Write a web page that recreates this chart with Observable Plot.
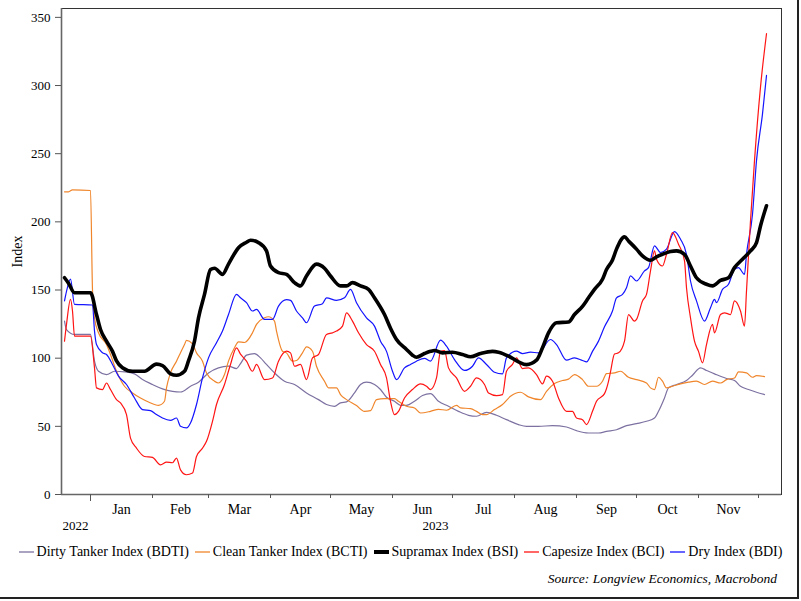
<!DOCTYPE html>
<html><head><meta charset="utf-8">
<script src="https://cdn.jsdelivr.net/npm/d3@7"></script>
<script src="https://cdn.jsdelivr.net/npm/@observablehq/plot@0.6"></script>
<style>
body{margin:0;background:#fff;}
#wrap{position:relative;width:801px;height:601px;font-family:"Liberation Serif",serif;color:#000;overflow:hidden}
#box{position:absolute;left:0;top:0;width:797px;height:597px;border-right:2px solid #222;border-bottom:2px solid #222;pointer-events:none}
#chart{position:absolute;left:0;top:0}
#legend{position:absolute;top:544px;left:8px;width:785px;display:flex;justify-content:center;align-items:center;font-size:14px;white-space:nowrap}
#legend .it{display:flex;align-items:center;margin:0 3px}
#legend svg{margin-right:3px}
#source{position:absolute;top:571px;right:24px;font-size:13.5px;font-style:italic}
</style></head>
<body><div id="wrap"><div id="chart"></div><div id="legend"></div><div id="source">Source: Longview Economics, Macrobond</div><div id="box"></div></div>
<script>
// day offsets from 2023-01-01, index values
const bdti = [[-13,127.2],[-12,121],[-8,117.4],[0,117.4],[2,97.8],[4,90.4],[8,88],[12,90.4],[17,90],[22,88.5],[26,84.3],[31,80.7],[36,77.5],[41,75.7],[45,75.2],[50,79.4],[54,82.4],[59,89.2],[64,92.9],[69,94.1],[73,92.4],[75,96],[78,102.2],[82,103.4],[85,100.2],[88,95.4],[92,89.2],[97,83.1],[102,80.7],[108,74.5],[114,69.6],[118,66],[122,64.7],[125,67.2],[128,67.9],[132,74.5],[135,80.7],[138,82.4],[142,80.7],[145,77],[148,71.3],[152,68.4],[155,65.4],[158,65.4],[162,68.4],[166,72.6],[170,74],[174,68.4],[179,64.7],[184,61],[189,58.1],[193,57.4],[198,60.3],[203,58.1],[208,54.9],[214,51.3],[218,50],[224,50],[231,50.5],[238,49.5],[243,46.8],[249,45.1],[254,45.1],[258,46.3],[263,47.5],[268,50.5],[273,52],[278,53.7],[282,56.1],[284,61],[287,70.8],[289,78.2],[293,80.7],[298,83.6],[301,87.5],[305,92.9],[308,91],[312,88.5],[318,85.1],[322,83.6],[325,79.4],[329,77],[333,75],[337,73.3]];
const bcti = [[-13,222],[-11,222],[-9,223.5],[0,223],[1,150],[2,129.6],[4,118.6],[8,110],[10,102.7],[13,90.4],[17,79.4],[21,74.5],[25,70.8],[29,67.9],[34,65.4],[37,68.4],[38,78.2],[40,89.2],[43,97.8],[45,103.9],[47,110],[48,113],[51,110.5],[53,103.9],[56,97.8],[58,89.2],[62,83.1],[64,81.8],[67,88],[69,97.8],[72,107.6],[74,112],[77,111.5],[81,118.6],[83,124.8],[87,129.6],[89,130.4],[92,127.2],[93,119.9],[96,105.1],[98,103.9],[101,97.8],[103,98.3],[106,103.9],[108,108.3],[111,105.1],[113,94.1],[117,83.1],[119,78.2],[123,78.2],[125,73.3],[128,69.6],[133,65.2],[137,61],[140,61.5],[143,69.6],[147,70.3],[152,70.3],[154,68.4],[158,64.7],[162,63.5],[165,59.8],[170,61],[174,62.5],[178,61.8],[183,65.4],[185,63.5],[190,63],[193,61],[196,58.6],[198,58.6],[202,62.3],[206,66],[210,72],[215,75],[219,71.6],[225,69.6],[228,75.7],[232,81.4],[236,83.6],[239,84.6],[242,88],[246,84.3],[249,79.4],[253,79.4],[256,83.1],[258,88.7],[262,89.2],[265,90.4],[269,86],[273,84.3],[278,81.8],[280,78.2],[282,77],[284,86],[286,83.1],[288,78.2],[291,79.4],[295,81.1],[299,82.4],[303,83.1],[307,80.7],[311,83.1],[315,81.8],[318,84.3],[322,85.5],[324,89.9],[328,89.2],[331,86],[333,87.2],[337,86.5]];
const bsi = [[-13,159],[-11,155],[-8,148],[0,148],[3,132],[5,121],[8,112.5],[11,105],[13,98],[16,93],[21,90.4],[27,90.4],[33,95.6],[36,94.6],[40,88.5],[43,87.5],[47,90.4],[49,98],[52,112.5],[54,129.6],[57,146.8],[60,165],[62,166],[66,161.5],[69,169],[74,181],[78,185],[80,186.5],[84,184.8],[88,178.7],[90,167.6],[94,162.7],[98,161.5],[102,155.4],[105,153],[108,160.3],[113,169],[117,166],[120,160.3],[125,153],[128,153],[131,155.4],[135,153],[139,150.5],[142,144.3],[147,132],[150,122],[153,113.7],[158,106.4],[161,102.2],[163,100.7],[167,103.4],[170,105],[172,105.6],[176,103.9],[181,104.4],[186,102.7],[190,101],[195,103.4],[201,105],[204,104.4],[209,101.5],[214,97.3],[218,95.3],[223,98.5],[226,107.6],[229,118.6],[233,126],[239,126.5],[242,132],[246,138],[249,144.3],[252,150.5],[256,157.9],[258,165],[261,172],[263,180],[267,189],[269,186],[273,180],[276,175],[280,171.8],[283,174.3],[286,176.2],[290,178.2],[293,178.7],[297,176.2],[300,167.6],[303,159],[308,154.2],[311,153],[315,157],[319,159],[322,166.4],[326,172.6],[330,178.7],[333,184.8],[335,197],[338,211.8]];
const bci = [[-13,112.5],[-12,124.8],[-10,143.2],[-9,134.6],[-8,116.2],[0,116.2],[2,92.9],[3,78.2],[6,77],[8,81.8],[10,77],[13,69.6],[15,67.2],[18,58.6],[20,41.4],[23,34],[27,27.9],[31,27.2],[35,21.8],[38,23.8],[41,23.3],[43,26.7],[45,18.1],[48,14.5],[51,15.7],[53,27.9],[56,34],[58,39],[61,53.7],[63,66],[67,80.7],[70,95.4],[73,107.6],[75,103],[78,97.8],[81,90.4],[83,95.4],[87,84.3],[91,85.5],[94,97.8],[98,105.1],[100,103.9],[102,94.1],[105,95.4],[108,84.3],[111,100.2],[114,102.7],[118,117.4],[121,118.6],[123,119.9],[126,123.5],[128,133.3],[131,127.2],[134,118.6],[138,110],[142,105.1],[145,95.4],[148,85.5],[150,68.4],[152,58.6],[154,61],[157,70.8],[161,77],[165,81.1],[168,79.4],[170,77],[173,85.5],[175,105],[177,105.6],[179,92.9],[183,85.5],[187,75.7],[190,79.4],[193,85.5],[197,80.7],[199,74.5],[203,72.6],[206,73.3],[208,90.4],[211,95.4],[213,100.2],[216,92.4],[219,92.9],[223,88],[226,81.1],[228,86.8],[231,83.1],[234,70.8],[238,61],[241,61],[243,56.1],[246,54.9],[248,51.3],[251,61],[253,68.4],[257,74],[259,83],[260,90],[262,103],[264,103.9],[267,112.5],[269,132],[272,127.2],[273,128.4],[276,142],[278,146.8],[280,164],[282,178.7],[283,172.6],[286,167.6],[288,176.2],[291,192.1],[294,183.6],[297,171.3],[298,151.7],[300,129.6],[302,112.5],[304,105],[306,96.6],[308,110],[311,124.8],[312,118.6],[315,132],[317,133.3],[320,132],[322,142],[325,134.6],[327,123.5],[328,149.3],[330,200.7],[332,244.9],[335,298.8],[338,338]];
const bdi = [[-13,142],[-12,149],[-10,158],[-8,139.5],[1,139],[2,120],[3,110],[6,104],[8,102.7],[11,95.4],[14,86.8],[18,80.7],[22,70.8],[26,62.3],[30,61.5],[33,58.6],[36,56.1],[40,54.4],[43,56.1],[45,50],[48,48.8],[50,52.4],[53,66],[56,85.5],[59,100.2],[63,111.3],[66,119.9],[69,132],[73,146.8],[75,144.3],[78,140.7],[81,134.6],[83,135.8],[87,128.5],[91,128.5],[94,138.2],[98,143],[100,142.4],[103,134.6],[106,129.6],[108,126],[112,138.2],[116,140],[118,144.3],[123,142.4],[127,144.3],[130,150.5],[133,140.7],[138,129.6],[142,123.5],[145,112.5],[148,105],[151,90.4],[153,84.3],[157,92.9],[160,95.4],[163,97.8],[167,99.8],[170,97.8],[175,113.2],[178,108.8],[182,99],[187,91],[191,94.1],[194,100.2],[198,95.4],[202,89.7],[206,88.5],[208,100.2],[213,105.1],[216,103.4],[220,104.4],[224,103.9],[230,113.7],[233,110],[238,98.5],[242,100.2],[246,98.3],[248,97.3],[251,105],[254,112.5],[257,123],[261,134.6],[263,144.3],[266,146.8],[268,151.7],[270,160.3],[273,156.6],[277,164],[279,166.4],[282,182.4],[285,177.5],[288,180],[292,192.9],[295,187.3],[298,176.2],[300,156.6],[303,142],[307,127.2],[310,137],[312,143.2],[313,140.7],[316,150.5],[319,154.2],[322,165.2],[324,166.4],[327,161.5],[328,176.2],[331,205.6],[333,244.9],[336,279.2],[338,307.4]];

const seriesNames = ["Dirty Tanker Index (BDTI)","Clean Tanker Index (BCTI)","Supramax Index (BSI)","Capesize Index (BCI)","Dry Index (BDI)"];
const seriesColors = ["#7d71a1","#f0862c","#000000","#ff1414","#1414ff"];
const seriesWidths = [1.2,1.2,3.6,1.2,1.2];
const yTicks = [0,50,100,150,200,250,300,350];
const monthLabels = ["Jan","Feb","Mar","Apr","May","Jun","Jul","Aug","Sep","Oct","Nov"];
const yearLabels = ["2022","2023"];

const base = Date.UTC(2023,0,1);
const toDate = d => new Date(base + d*864e5);
const allSeries = [bdti,bcti,bsi,bci,bdi];
const rows = allSeries.map((s,i) => s.map(([d,v]) => ({date: toDate(d), value: v, series: seriesNames[i]})));

const monthStarts = d3.range(0,12).map(m => new Date(Date.UTC(2023,m,1)));
const monthMids = monthLabels.map((_,m) => new Date((Date.UTC(2023,m,1)+Date.UTC(2023,m+1,1))/2));
const yearPos = [toDate(-7.5), toDate(172.5)];

const drawOrder = [0,1,4,3,2];
const chart = Plot.plot({
  width: 801, height: 536,
  marginTop: 8, marginRight: 20, marginBottom: 42, marginLeft: 61,
  style: {fontFamily: "Liberation Serif, serif", fontSize: "13px", color: "#000", background: "transparent"},
  x: {type: "utc", domain: [toDate(-14.5), toDate(345.5)]},
  y: {domain: [0, 356.5]},
  marks: [
    Plot.frame({stroke: "#333", strokeWidth: 1}),
    ...drawOrder.map(i => Plot.line(rows[i], {x: "date", y: "value", stroke: seriesColors[i], strokeWidth: seriesWidths[i], curve: "monotone-x"})),
    Plot.ruleX([toDate(-14.5)], {stroke: "#666", strokeWidth: 1.6}),
    Plot.ruleY([0], {stroke: "#666", strokeWidth: 1.6}),
    Plot.axisY(yTicks, {tickSize: 6, tickPadding: 5, fontSize: 13, label: null, stroke: "#555"}),
    Plot.axisX(monthStarts, {tickSize: 4, tickFormat: () => "", label: null, stroke: "#555"}),
    Plot.axisX([monthStarts[0]], {tickSize: 7, tickFormat: () => "", label: null, stroke: "#555"}),
    Plot.axisX(monthMids, {tickSize: 0, tickPadding: 10, fontSize: 14, tickFormat: (d,i) => monthLabels[i], label: null}),
    Plot.axisX(yearPos, {tickSize: 0, tickPadding: 26, fontSize: 13, tickFormat: (d,i) => yearLabels[i], label: null}),
    Plot.text(["Index"], {frameAnchor: "left", dx: -44, rotate: -90, fontSize: 14, textAnchor: "middle"})
  ]
});
document.getElementById("chart").appendChild(chart);

const legend = document.getElementById("legend");
const ns = "http://www.w3.org/2000/svg";
seriesNames.forEach((n,i) => {
  const it = document.createElement("span"); it.className = "it";
  const sw = document.createElementNS(ns, "svg");
  sw.setAttribute("width", 15); sw.setAttribute("height", 8);
  const ln = document.createElementNS(ns, "line");
  ln.setAttribute("x1", 0); ln.setAttribute("x2", 15); ln.setAttribute("y1", 4); ln.setAttribute("y2", 4);
  ln.setAttribute("stroke", seriesColors[i]);
  ln.setAttribute("stroke-width", seriesWidths[i] > 2 ? 4 : 1.3);
  sw.appendChild(ln);
  const t = document.createElement("span"); t.textContent = n;
  it.appendChild(sw); it.appendChild(t); legend.appendChild(it);
});
</script></body></html>
